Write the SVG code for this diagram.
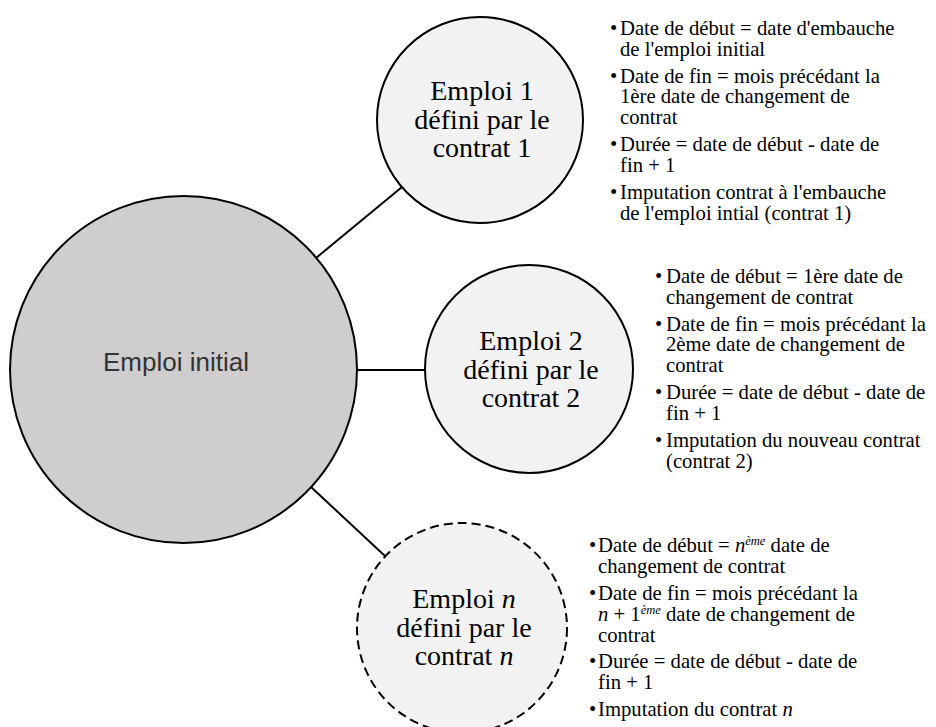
<svg xmlns="http://www.w3.org/2000/svg" width="936" height="727" viewBox="0 0 936 727">
<style>
  .conn { stroke: #000; stroke-width: 2; fill: none; }
  .main { fill: #cfcdce; stroke: #000; stroke-width: 2; }
  .sub { fill: #f2f2f2; stroke: #000; stroke-width: 2; }
  .dashed { stroke-dasharray: 9 5; }
  .mainlbl { font-family: "Liberation Sans", Arial, sans-serif; font-size: 26px; fill: #333; text-anchor: middle; }
  .sublbl { font-family: "Liberation Serif", "Times New Roman", serif; font-size: 28px; fill: #000; text-anchor: middle; }
  .note { font-family: "Liberation Serif", "Times New Roman", serif; font-size: 20.7px; fill: #000; }
  .sup { font-size: 12.5px; font-style: italic; }
  .it { font-style: italic; }
</style>
<rect width="936" height="727" fill="#fff"/>
<g id="connectors">
  <line class="conn" x1="316" y1="258" x2="402" y2="187"/>
  <line class="conn" x1="357" y1="370" x2="425" y2="370"/>
  <line class="conn" x1="311" y1="487" x2="385" y2="556"/>
</g>
<g id="node-initial">
  <circle class="main" cx="183.5" cy="369.5" r="173.5"/>
  <text class="mainlbl" x="176" y="371">Emploi initial</text>
</g>
<g id="node-emploi1">
  <circle class="sub" cx="480" cy="120" r="103"/>
  <text class="sublbl" x="482" y="100">Emploi 1</text>
  <text class="sublbl" x="482" y="128.5">défini par le</text>
  <text class="sublbl" x="482" y="157">contrat 1</text>
</g>
<g id="node-emploi2">
  <circle class="sub" cx="529" cy="369" r="104"/>
  <text class="sublbl" x="531" y="350">Emploi 2</text>
  <text class="sublbl" x="531" y="378.5">défini par le</text>
  <text class="sublbl" x="531" y="407">contrat 2</text>
</g>
<g id="node-emploin">
  <circle class="sub dashed" cx="462" cy="628" r="105"/>
  <text class="sublbl" x="464" y="608">Emploi <tspan class="it">n</tspan></text>
  <text class="sublbl" x="464" y="636.5">défini par le</text>
  <text class="sublbl" x="464" y="665">contrat <tspan class="it">n</tspan></text>
</g>
<g id="notes-emploi1" class="note">
  <text x="610" y="35">•</text><text x="620" y="35">Date de début = date d'embauche</text>
  <text x="620" y="56">de l'emploi initial</text>
  <text x="610" y="83">•</text><text x="620" y="83">Date de fin = mois précédant la</text>
  <text x="620" y="103">1ère date de changement de</text>
  <text x="620" y="124">contrat</text>
  <text x="610" y="151">•</text><text x="620" y="151">Durée = date de début - date de</text>
  <text x="620" y="172">fin + 1</text>
  <text x="610" y="199">•</text><text x="620" y="199">Imputation contrat à l'embauche</text>
  <text x="620" y="220">de l'emploi intial (contrat 1)</text>
</g>
<g id="notes-emploi2" class="note">
  <text x="655" y="283">•</text><text x="666" y="283">Date de début = 1ère date de</text>
  <text x="666" y="304">changement de contrat</text>
  <text x="655" y="331">•</text><text x="666" y="331">Date de fin = mois précédant la</text>
  <text x="666" y="351">2ème date de changement de</text>
  <text x="666" y="372">contrat</text>
  <text x="655" y="399">•</text><text x="666" y="399">Durée = date de début - date de</text>
  <text x="666" y="420">fin + 1</text>
  <text x="655" y="447">•</text><text x="666" y="447">Imputation du nouveau contrat</text>
  <text x="666" y="468">(contrat 2)</text>
</g>
<g id="notes-emploin" class="note">
  <text x="589" y="552">•</text><text x="598" y="552">Date de début = <tspan class="it">n</tspan><tspan class="sup" dy="-7">ème</tspan><tspan dy="7"> date de</tspan></text>
  <text x="598" y="573">changement de contrat</text>
  <text x="589" y="600">•</text><text x="598" y="600">Date de fin = mois précédant la</text>
  <text x="598" y="621"><tspan class="it">n</tspan> + 1<tspan class="sup" dy="-7">ème</tspan><tspan dy="7"> date de changement de</tspan></text>
  <text x="598" y="642">contrat</text>
  <text x="589" y="668">•</text><text x="598" y="668">Durée = date de début - date de</text>
  <text x="598" y="689">fin + 1</text>
  <text x="589" y="716">•</text><text x="598" y="716">Imputation du contrat <tspan class="it">n</tspan></text>
</g>
</svg>
